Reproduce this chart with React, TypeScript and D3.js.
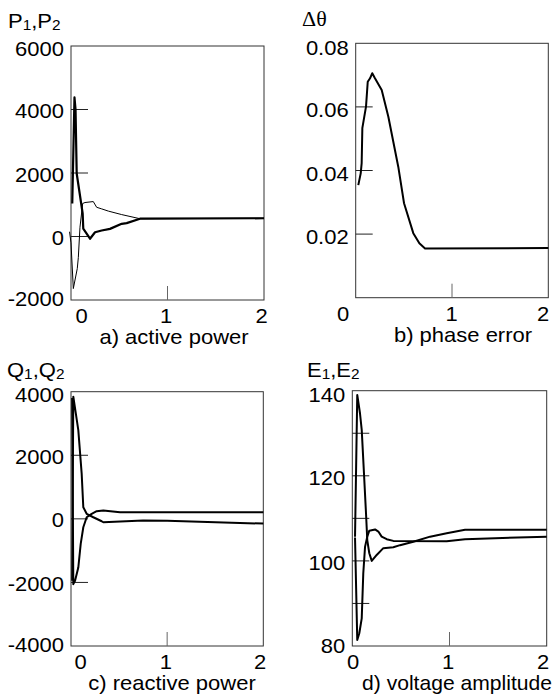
import React from "react";
import * as d3 from "d3";

// ---------- data ----------
const xTickLabels = ["0", "1", "2"];

// a) active power
const P1: [number, number][] = [
  [0.013, 1040], [0.036, 4380], [0.047, 4000], [0.059, 1985], [0.121, 725], [0.127, 250],
  [0.197, -70], [0.249, 135], [0.318, 190], [0.404, 240], [0.525, 400], [0.577, 420],
  [0.715, 560], [2.0, 575],
];
const P2: [number, number][] = [
  [-0.015, 150], [0.0, -200], [0.024, -1640], [0.065, -1010], [0.076, -660], [0.093, 290],
  [0.121, 1040], [0.145, 1070], [0.231, 1100], [0.266, 920], [0.318, 870], [0.387, 800],
  [0.525, 690], [0.715, 560], [2.0, 575],
];
const yTicksA = [-2000, 0, 2000, 4000, 6000];

// b) phase error
const dTheta: [number, number][] = [
  [0.027, 0.0354], [0.052, 0.0391], [0.062, 0.0423], [0.069, 0.0533], [0.107, 0.0601],
  [0.125, 0.0679], [0.149, 0.069], [0.172, 0.0706], [0.2, 0.069], [0.27, 0.0653],
  [0.339, 0.0569], [0.442, 0.0412], [0.502, 0.0297], [0.598, 0.0203], [0.661, 0.0171],
  [0.72, 0.0155], [2.0, 0.0156],
];
const yTicksB = [0.02, 0.04, 0.06, 0.08];

// c) reactive power
const Q1: [number, number][] = [
  [0.012, -1950], [0.024, 3843], [0.076, 2790], [0.111, 1422], [0.128, 366], [0.163, 158],
  [0.232, 50], [0.319, -76], [0.336, -107], [0.75, -50], [1.0, -60], [2.0, -150],
];
const Q2: [number, number][] = [
  [0.012, 3800], [0.024, -2054], [0.042, -1950], [0.076, -1530], [0.101, -790], [0.128, -265],
  [0.163, 50], [0.215, 158], [0.267, 240], [0.336, 262], [0.51, 210], [2.0, 210],
];
const yTicksC = [-4000, -2000, 0, 2000, 4000];

// d) voltage amplitude
const E1: [number, number][] = [
  [0.028, 105.7], [0.051, 139.0], [0.079, 134.7], [0.097, 130.8], [0.12, 120.6], [0.141, 111.2],
  [0.154, 104.9], [0.175, 101.8], [0.2, 100.0], [0.251, 101.4], [0.319, 103.0], [0.422, 103.2],
  [0.491, 103.7], [0.628, 104.5], [0.8, 105.7], [0.971, 106.5], [1.16, 107.3], [2.0, 107.3],
];
const E2: [number, number][] = [
  [0.028, 105.5], [0.051, 81.4], [0.072, 83.0], [0.097, 86.5], [0.113, 97.1], [0.131, 103.3],
  [0.154, 105.7], [0.175, 107.1], [0.234, 107.4], [0.268, 106.9], [0.302, 105.7], [0.354, 105.1],
  [0.422, 104.7], [0.971, 104.6], [1.16, 105.1], [2.0, 105.7],
];
const yTicksD = [80, 100, 120, 140];
const yMarksD = [90, 100, 110, 120, 130];

// ---------- helpers ----------
const FONT = "'Liberation Sans', Arial, sans-serif";

function Label({ x, y, anchor = "middle", sx = 1.1, size = 20, children, family = FONT }: any) {
  return (
    <text
      transform={`translate(${x},${y}) scale(${sx},1)`}
      textAnchor={anchor}
      fontSize={size}
      fontFamily={family}
      fill="#000"
    >
      {children}
    </text>
  );
}

function Panel({ box, yDomain, yLabels, yMarks, yFmt, series, xDx, title, titleX, titleSx = 1.1 }: any) {
  const x = d3.scaleLinear().domain([0, 2]).range([box.l, box.r]);
  const y = d3.scaleLinear().domain(yDomain).range([box.b, box.t]);
  const line = d3
    .line<[number, number]>()
    .x((d) => x(d[0]))
    .y((d) => y(d[1]));
  return (
    <g>
      <rect x={box.l} y={box.t} width={box.r - box.l} height={box.b - box.t} fill="none" stroke="#333" strokeWidth={1} />
      {yMarks.map((v: number) => (
        <line key={"m" + v} x1={box.l} x2={box.l + 17} y1={y(v)} y2={y(v)} stroke="#222" strokeWidth={1} />
      ))}
      <line x1={x(1)} x2={x(1)} y1={box.b} y2={box.b - 14} stroke="#666" strokeWidth={1} />
      {series.map((s: any, i: number) => (
        <path key={i} d={line(s.data) || ""} fill="none" stroke="#000" strokeWidth={s.w} strokeLinejoin="round" />
      ))}
      {yLabels.map((v: number, i: number) => {
        let dy = 8.5 + (box.yLabelDy || 0);
        if (i === yLabels.length - 1) dy += 1.5;
        if (i === 0 && v === yDomain[0]) dy -= 2.5;
        return (
          <Label key={"y" + v} x={box.l - 7} y={y(v) + dy} anchor="end">
            {yFmt(v)}
          </Label>
        );
      })}
      {xTickLabels.map((t, i) => (
        <Label key={"x" + t} x={x(i) + xDx[i]} y={box.b + 23}>
          {t}
        </Label>
      ))}
      <Label x={titleX} y={box.b + 44} sx={titleSx}>
        {title}
      </Label>
    </g>
  );
}

function SubTitle({ x, y, a, b }: any) {
  return (
    <text transform={`translate(${x},${y}) scale(1.1,1)`} fontSize={20} fontFamily={FONT} fill="#000">
      {a}
      <tspan fontSize={14} dy={2}>1</tspan>
      <tspan dy={-2}>,{b}</tspan>
      <tspan fontSize={14} dy={2}>2</tspan>
    </text>
  );
}

export default function App() {
  const fmtInt = (v: number) => String(v);
  const fmtB = (v: number) => v.toFixed(2);
  return (
    <svg width={560} height={698} style={{ position: "absolute", left: 0, top: 0, background: "#fff" }}>
      <rect width={560} height={698} fill="#fff" />
      <SubTitle x={8} y={28} a="P" b="P" />
      <Label x={302} y={26} anchor="start" sx={1.1} size={20} family="'Liberation Serif', 'DejaVu Serif', serif">
        Δθ
      </Label>
      <SubTitle x={7} y={377} a="Q" b="Q" />
      <SubTitle x={307} y={377} a="E" b="E" />

      <Panel
        box={{ l: 71, t: 46, r: 264, b: 300 }}
        yDomain={[-2000, 6000]}
        yLabels={yTicksA}
        yMarks={[0, 2000, 4000]}
        yFmt={fmtInt}
        series={[{ data: P2, w: 1 }, { data: P1, w: 2.2 }]}
        xDx={[10.7, -1.5, -2.3]}
        title="a) active power"
        titleX={174}
      />
      <Panel
        box={{ l: 355.7, t: 43.3, r: 548.3, b: 297.7, yLabelDy: 1.5 }}
        yDomain={[0, 0.08]}
        yLabels={yTicksB}
        yMarks={[0.02, 0.04, 0.06]}
        yFmt={fmtB}
        series={[{ data: dTheta, w: 2 }]}
        xDx={[-12.7, -0.3, -5.3]}
        title="b) phase error"
        titleX={463}
      />
      <Panel
        box={{ l: 71, t: 391.7, r: 263.3, b: 646 }}
        yDomain={[-4000, 4000]}
        yLabels={yTicksC}
        yMarks={[-2000, 0, 2000]}
        yFmt={fmtInt}
        series={[{ data: Q1, w: 2 }, { data: Q2, w: 2 }]}
        xDx={[9.7, -1.2, -3.3]}
        title="c) reactive power"
        titleX={172}
      />
      <Panel
        box={{ l: 352.3, t: 390.7, r: 546.7, b: 646, yLabelDy: 1 }}
        yDomain={[80, 140]}
        yLabels={yTicksD}
        yMarks={yMarksD}
        yFmt={fmtInt}
        series={[{ data: E1, w: 2 }, { data: E2, w: 2 }]}
        xDx={[0.7, -1.5, -3.7]}
        title="d) voltage amplitude"
        titleX={457}
        titleSx={1.055}
      />
    </svg>
  );
}
